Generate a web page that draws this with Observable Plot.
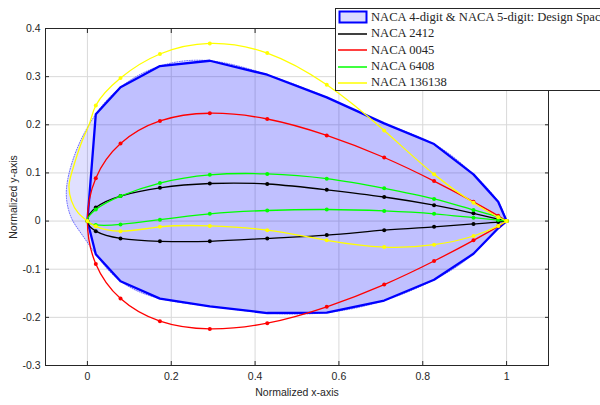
<!DOCTYPE html>
<html>
<head>
<meta charset="utf-8">
<script src="https://cdn.jsdelivr.net/npm/d3@7"></script>
<script src="https://cdn.jsdelivr.net/npm/@observablehq/plot@0.6"></script>
<style>
  html, body { margin: 0; padding: 0; background: #fff; overflow: hidden; }
  #wrap { position: relative; width: 600px; height: 405px; overflow: hidden; }
  #legend {
    position: absolute; left: 335px; top: 8px; width: 300px; height: 83px;
    background: #fff; border: 1px solid #262626; box-sizing: border-box;
    font-family: "Liberation Serif", "Times New Roman", serif; font-size: 12.6px; color: #262626;
  }
  .row { position: absolute; left: 2px; height: 16px; display: flex; align-items: center; white-space: nowrap; }
  .row svg { margin-right: 3px; }
</style>
</head>
<body>
<div id="wrap"><div id="chart"></div><div id="legend"></div></div>
<script>
// ---- data ----
const xNodes = [0, 0.020, 0.079, 0.173, 0.292, 0.429, 0.571, 0.708, 0.827, 0.921, 0.980, 1];

const designUpper = [0, 0.222, 0.278, 0.322, 0.333, 0.304, 0.257, 0.203, 0.160, 0.097, 0.040, 0];
const designLower = [0, -0.069, -0.125, -0.161, -0.177, -0.191, -0.190, -0.165, -0.122, -0.068, -0.015, 0];
// leading-edge nose of the lighter, smoothed design-space envelope (read along its dotted edge)
const envelopeNoseX = [-0.022, -0.045, -0.050, -0.038, -0.018];
const envelopeNoseY = [0.156, 0.095, 0.048, 0.006, -0.022];

const naca2412Upper = [0, 0.028, 0.052, 0.069, 0.078, 0.077, 0.065, 0.050, 0.033, 0.016, 0.004, 0];
const naca2412Lower = [0, -0.021, -0.036, -0.042, -0.042, -0.036, -0.029, -0.019, -0.012, -0.006, -0.002, 0];

const naca0045Upper = [0, 0.089, 0.161, 0.208, 0.224, 0.212, 0.178, 0.132, 0.083, 0.040, 0.011, 0];
const naca0045Lower = [0, -0.089, -0.161, -0.208, -0.224, -0.212, -0.178, -0.132, -0.083, -0.040, -0.011, 0];

const naca6408Upper = [0, 0.024, 0.052, 0.079, 0.096, 0.098, 0.088, 0.068, 0.046, 0.023, 0.008, 0];
const naca6408Lower = [0, -0.008, -0.007, 0.003, 0.015, 0.022, 0.024, 0.021, 0.015, 0.007, 0.002, 0];

const naca136138Upper = [0, 0.240, 0.297, 0.347, 0.369, 0.349, 0.283, 0.188, 0.097, 0.038, 0.008, 0];
const naca136138Lower = [0, -0.011, -0.021, -0.012, -0.010, -0.019, -0.040, -0.054, -0.049, -0.031, -0.010, 0];
// NACA 136138 curve between its first upper marker and the leading edge
const naca136138NoseX = [0.006, -0.012, -0.037, -0.044, -0.038, -0.022];
const naca136138NoseY = [0.205, 0.168, 0.102, 0.072, 0.042, 0.017];

const seriesNames = ["NACA 2412", "NACA 0045", "NACA 6408", "NACA 136138"];
const seriesColors = ["#000000", "#ff0000", "#00ff00", "#ffff00"];
const designLabel = "NACA 4-digit & NACA 5-digit: Design Space";

const xTicks = [0, 0.2, 0.4, 0.6, 0.8, 1];
const yTicks = [-0.3, -0.2, -0.1, 0, 0.1, 0.2, 0.3, 0.4];
const xLabel = "Normalized x-axis";
const yLabel = "Normalized y-axis";

// ---- contour rows: trailing edge -> upper -> (nose) -> leading edge -> lower -> trailing edge ----
function contour(upper, lower, noseX = [], noseY = [], keepLE = true) {
  const rows = [];
  for (let i = xNodes.length - 1; i >= 1; i--) rows.push({x: xNodes[i], y: upper[i]});
  noseX.forEach((x, i) => rows.push({x, y: noseY[i]}));
  if (keepLE) rows.push({x: xNodes[0], y: upper[0]});
  for (let i = 1; i < xNodes.length; i++) rows.push({x: xNodes[i], y: lower[i]});
  return rows;
}
function markers(upper, lower) {
  const rows = [];
  xNodes.forEach((x, i) => { rows.push({x, y: upper[i]}); if (i > 0) rows.push({x, y: lower[i]}); });
  return rows;
}
const designRows = contour(designUpper, designLower);
const envelopeRows = contour(designUpper, designLower, envelopeNoseX, envelopeNoseY, false);

const airfoilCurves = [
  contour(naca2412Upper, naca2412Lower),
  contour(naca0045Upper, naca0045Lower),
  contour(naca6408Upper, naca6408Lower),
  contour(naca136138Upper, naca136138Lower, naca136138NoseX, naca136138NoseY)
];
const airfoilMarkers = [
  markers(naca2412Upper, naca2412Lower),
  markers(naca0045Upper, naca0045Lower),
  markers(naca6408Upper, naca6408Lower),
  markers(naca136138Upper, naca136138Lower)
];

// ---- centripetal parametric natural cubic spline (like MATLAB's cscvn) ----
function splineDerivs(v, h) {
  const n = v.length;
  const a = new Array(n).fill(0), b = new Array(n).fill(0), c = new Array(n).fill(0), r = new Array(n).fill(0);
  const del = [];
  for (let i = 0; i < n - 1; i++) del[i] = (v[i + 1] - v[i]) / h[i];
  b[0] = 2; c[0] = 1; r[0] = 3 * del[0];
  for (let i = 1; i < n - 1; i++) {
    a[i] = h[i]; b[i] = 2 * (h[i - 1] + h[i]); c[i] = h[i - 1];
    r[i] = 3 * (h[i] * del[i - 1] + h[i - 1] * del[i]);
  }
  a[n - 1] = 1; b[n - 1] = 2; r[n - 1] = 3 * del[n - 2];
  for (let i = 1; i < n; i++) {
    const m = a[i] / b[i - 1];
    b[i] -= m * c[i - 1];
    r[i] -= m * r[i - 1];
  }
  const d = new Array(n);
  d[n - 1] = r[n - 1] / b[n - 1];
  for (let i = n - 2; i >= 0; i--) d[i] = (r[i] - c[i] * d[i + 1]) / b[i];
  return d;
}
function centripetalSpline(context) {
  let pts = [];
  return {
    areaStart() {}, areaEnd() {},
    lineStart() { pts = []; },
    point(x, y) { pts.push([+x, +y]); },
    lineEnd() {
      const n = pts.length;
      if (!n) return;
      context.moveTo(pts[0][0], pts[0][1]);
      if (n < 3) { if (n === 2) context.lineTo(pts[1][0], pts[1][1]); return; }
      const h = [];
      for (let i = 0; i < n - 1; i++) h[i] = Math.sqrt(Math.hypot(pts[i + 1][0] - pts[i][0], pts[i + 1][1] - pts[i][1])) || 1e-6;
      const dx = splineDerivs(pts.map(p => p[0]), h);
      const dy = splineDerivs(pts.map(p => p[1]), h);
      for (let i = 0; i < n - 1; i++) {
        context.bezierCurveTo(
          pts[i][0] + h[i] * dx[i] / 3, pts[i][1] + h[i] * dy[i] / 3,
          pts[i + 1][0] - h[i] * dx[i + 1] / 3, pts[i + 1][1] - h[i] * dy[i + 1] / 3,
          pts[i + 1][0], pts[i + 1][1]);
      }
    }
  };
}

const marks = [
  Plot.gridX(xTicks, {stroke: "#d9d9d9", strokeOpacity: 1, strokeWidth: 1}),
  Plot.gridY(yTicks, {stroke: "#d9d9d9", strokeOpacity: 1, strokeWidth: 1}),
  // smoothed design-space envelope (light patch, dotted edge)
  Plot.line(envelopeRows, {x: "x", y: "y", curve: centripetalSpline, fill: "#0000ff", fillOpacity: 0.12,
    stroke: "#0000ff", strokeWidth: 1, strokeOpacity: 0.55, strokeDasharray: "1,1.5"}),
  // design-space polygon
  Plot.line(designRows, {x: "x", y: "y", curve: "linear-closed", fill: "#0000ff", fillOpacity: 0.14,
    stroke: "#0000ff", strokeWidth: 2.3})
];
airfoilCurves.forEach((rows, k) => {
  marks.push(Plot.line(rows, {x: "x", y: "y", curve: centripetalSpline, stroke: seriesColors[k], strokeWidth: 1.3}));
  marks.push(Plot.dot(airfoilMarkers[k], {x: "x", y: "y", r: 2, fill: seriesColors[k], stroke: "none"}));
});
marks.push(
  Plot.frame({stroke: "#262626", strokeWidth: 1}),
  Plot.axisX(xTicks, {anchor: "bottom", tickSize: -4, tickPadding: 11, fontSize: 10.5, label: xLabel,
    labelAnchor: "center", labelOffset: 30, labelArrow: "none", tickFormat: d => String(d)}),
  Plot.axisX(xTicks, {anchor: "top", tickSize: -4, tickFormat: () => "", label: null}),
  Plot.axisY(yTicks, {anchor: "left", tickSize: -4, tickPadding: 9, fontSize: 10.5, label: yLabel,
    labelAnchor: "center", labelOffset: 36, labelArrow: "none", tickFormat: d => String(+d.toFixed(1))}),
  Plot.axisY(yTicks, {anchor: "right", tickSize: -4, tickFormat: () => "", label: null})
);

const chart = Plot.plot({
  width: 600, height: 405,
  marginLeft: 45, marginRight: 52, marginTop: 28, marginBottom: 40,
  x: {domain: [-0.1, 1.1]},
  y: {domain: [-0.3, 0.4]},
  style: {fontFamily: "'Liberation Sans', Arial, sans-serif", fontSize: "10px", color: "#262626", background: "#fff"},
  marks
});
document.getElementById("chart").appendChild(chart);

// ---- legend ----
const legend = document.getElementById("legend");
const entries = [{label: designLabel, color: "#0000ff", patch: true}]
  .concat(seriesNames.map((n, i) => ({label: n, color: seriesColors[i]})));
const rowTops = [0, 16.5, 33, 49.5, 65.5];
entries.forEach((e, i) => {
  const row = document.createElement("div");
  row.className = "row";
  row.style.top = rowTops[i] + "px";
  const sw = e.patch
    ? `<svg width="30" height="14"><rect x="1.5" y="1.5" width="27" height="11" fill="#dcdcff" stroke="#0000ff" stroke-width="2"/></svg>`
    : `<svg width="30" height="14"><line x1="0" x2="29" y1="7" y2="7" stroke="${e.color}" stroke-width="1.5"/></svg>`;
  row.innerHTML = sw + `<span>${e.label}</span>`;
  legend.appendChild(row);
});
</script>
</body>
</html>
